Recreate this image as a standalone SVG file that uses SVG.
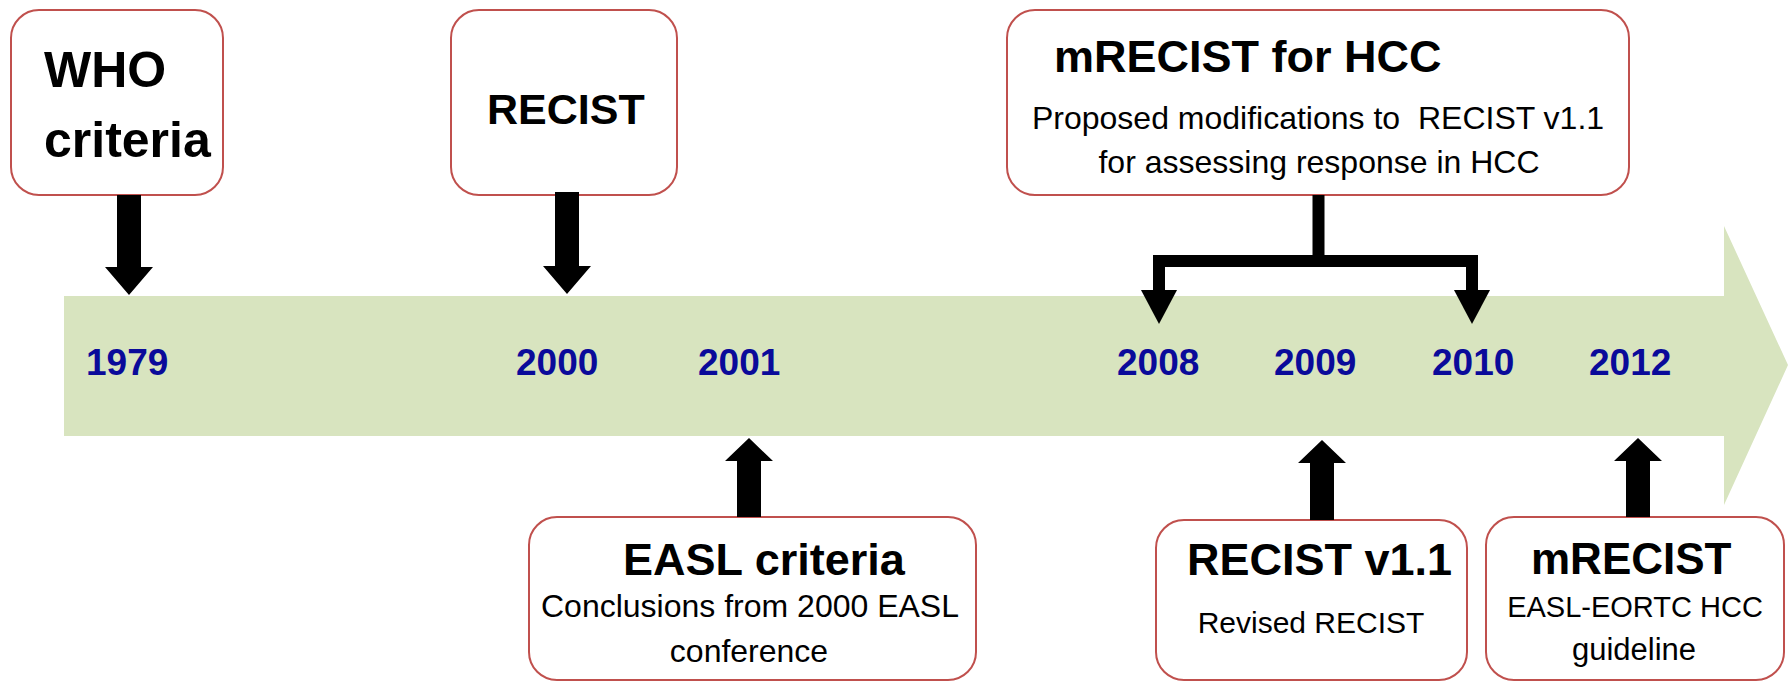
<svg xmlns="http://www.w3.org/2000/svg" width="1791" height="683" viewBox="0 0 1791 683">
<style>
.box{fill:#ffffff;stroke:#c0504d;stroke-width:2}
.t{font-family:"Liberation Sans",Arial,sans-serif;font-weight:bold;fill:#000}
.s{font-family:"Liberation Sans",Arial,sans-serif;fill:#000}
.yr{font-family:"Liberation Sans",Arial,sans-serif;font-weight:bold;font-size:37px;fill:#0a0a9a}
.arr{fill:#000}
.ln{fill:none;stroke:#000;stroke-width:12;stroke-linejoin:miter}
</style>
<rect width="1791" height="683" fill="#ffffff"/>
<g id="timeline">
<polygon points="64,296 1724,296 1724,226 1788,365 1724,505 1724,436 64,436" fill="#d8e4bf"/>
<text class="yr" x="86" y="375">1979</text>
<text class="yr" x="516" y="375">2000</text>
<text class="yr" x="698" y="375">2001</text>
<text class="yr" x="1117" y="375">2008</text>
<text class="yr" x="1274" y="375">2009</text>
<text class="yr" x="1432" y="375">2010</text>
<text class="yr" x="1589" y="375">2012</text>
</g>
<g id="who">
<rect class="box" x="11" y="10" width="212" height="185" rx="28"/>
<text class="t" x="44" y="87" font-size="50">WHO</text>
<text class="t" x="44" y="157" font-size="50">criteria</text>
</g>
<g id="recist">
<rect class="box" x="451" y="10" width="226" height="185" rx="28"/>
<text class="t" x="487" y="124" font-size="43">RECIST</text>
</g>
<g id="mrecist-hcc">
<rect class="box" x="1007" y="10" width="622" height="185" rx="28"/>
<text class="t" x="1054" y="72" font-size="45">mRECIST for HCC</text>
<text class="s" x="1318" y="129" font-size="32" text-anchor="middle" style="white-space:pre" xml:space="preserve">Proposed modifications to  RECIST v1.1</text>
<text class="s" x="1319" y="173" font-size="32" text-anchor="middle">for assessing response in HCC</text>
</g>
<g id="easl">
<rect class="box" x="529" y="517" width="447" height="163" rx="28"/>
<text class="t" x="623" y="575" font-size="45">EASL criteria</text>
<text class="s" x="750" y="617" font-size="32" text-anchor="middle">Conclusions from 2000 EASL</text>
<text class="s" x="749" y="662" font-size="32" text-anchor="middle">conference</text>
</g>
<g id="recist11">
<rect class="box" x="1156" y="520" width="311" height="160" rx="28"/>
<text class="t" x="1187" y="575" font-size="45">RECIST v1.1</text>
<text class="s" x="1311" y="633" font-size="30" text-anchor="middle">Revised RECIST</text>
</g>
<g id="mrecist">
<rect class="box" x="1486" y="517" width="298" height="163" rx="28"/>
<text class="t" x="1531" y="574" font-size="44">mRECIST</text>
<text class="s" x="1635" y="617" font-size="29" text-anchor="middle">EASL-EORTC HCC</text>
<text class="s" x="1634" y="660" font-size="31" text-anchor="middle">guideline</text>
</g>
<g id="connectors">
<polygon class="arr" points="117,195 141,195 141,267 153,267 129,295 105,267 117,267"/>
<polygon class="arr" points="555,192 579,192 579,266 591,266 567,294 543,266 555,266"/>
<polygon class="arr" points="737,517 761,517 761,461 773,461 749,438 725,461 737,461"/>
<polygon class="arr" points="1310,520 1334,520 1334,463 1346,463 1322,440 1298,463 1310,463"/>
<polygon class="arr" points="1626,517 1650,517 1650,461 1662,461 1638,438 1614,461 1626,461"/>
<path class="ln" d="M1318.5,195 V261"/>
<path class="ln" d="M1159,292 V261 H1472 V292"/>
<polygon class="arr" points="1141,290 1177,290 1159,324"/>
<polygon class="arr" points="1454,290 1490,290 1472,324"/>
</g>
</svg>
